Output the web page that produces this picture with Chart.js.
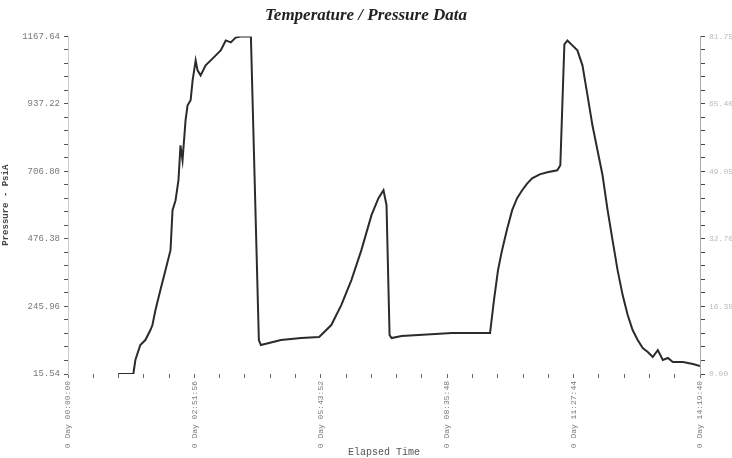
<!DOCTYPE html>
<html>
<head>
<meta charset="utf-8">
<script src="https://cdn.jsdelivr.net/npm/chart.js@4/dist/chart.umd.min.js"></script>
<style>
  html, body { margin: 0; padding: 0; background: #fff; }
  #wrap { width: 732px; height: 458px; }
</style>
</head>
<body>
<div id="wrap"><canvas id="tp"></canvas></div>
<script>
// elapsed time (in tick periods) and pressure
const elapsed = [0.397, 0.517, 0.533, 0.572, 0.612, 0.652, 0.668, 0.692, 0.731, 0.771, 0.811, 0.827, 0.851, 0.874, 0.890, 0.906, 0.930, 0.946, 0.970, 0.986, 1.010, 1.025, 1.049, 1.089, 1.129, 1.169, 1.208, 1.248, 1.288, 1.328, 1.367, 1.431, 1.447, 1.510, 1.526, 1.685, 1.844, 1.987, 2.083, 2.162, 2.242, 2.321, 2.401, 2.456, 2.496, 2.520, 2.544, 2.560, 2.639, 3.037, 3.339, 3.370, 3.402, 3.434, 3.474, 3.514, 3.553, 3.593, 3.632, 3.672, 3.732, 3.792, 3.871, 3.895, 3.927, 3.951, 3.990, 4.030, 4.070, 4.110, 4.149, 4.189, 4.229, 4.269, 4.308, 4.348, 4.388, 4.428, 4.467, 4.507, 4.547, 4.587, 4.626, 4.666, 4.706, 4.746, 4.785, 4.865, 4.944, 5.0];
const pressure = [15.5, 15.5, 63.3, 114.4, 131.4, 165.5, 182.6, 233.7, 301.9, 370.0, 438.2, 574.6, 608.6, 676.8, 795.9, 745.0, 881.3, 932.4, 949.6, 1017.7, 1085.8, 1051.8, 1034.7, 1068.8, 1085.8, 1102.9, 1119.9, 1153.9, 1147.2, 1164.2, 1167.6, 1167.6, 1167.6, 131.4, 114.4, 131.4, 138.3, 141.7, 182.6, 250.7, 335.9, 438.2, 557.6, 615.5, 642.7, 591.6, 148.5, 138.3, 145.1, 155.3, 155.3, 267.8, 370.0, 438.2, 510.0, 574.6, 615.5, 642.7, 665.0, 683.6, 697.0, 704.1, 710.9, 727.9, 1140.4, 1153.9, 1137.0, 1119.9, 1068.8, 966.5, 864.3, 779.1, 693.8, 574.6, 472.3, 370.0, 284.8, 216.6, 165.5, 131.4, 104.2, 90.5, 73.5, 97.3, 63.3, 70.1, 56.4, 56.4, 49.6, 42.8];

const timeLabels = ['0 Day 00:00:00', '0 Day 02:51:56', '0 Day 05:43:52', '0 Day 08:35:48', '0 Day 11:27:44', '0 Day 14:19:40'];
const leftTicks = [15.54, 245.96, 476.38, 706.80, 937.22, 1167.64];
const rightTicks = ['0.00', '16.35', '32.70', '49.05', '65.40', '81.75'];

const monoFont = { family: 'Liberation Mono', size: 8 };

const ctx = document.getElementById('tp').getContext('2d');

new Chart(ctx, {
  type: 'line',
  data: {
    datasets: [{
      data: elapsed.map((x, i) => ({ x, y: pressure[i] })),
      borderColor: '#2b2b2b',
      borderWidth: 2,
      pointRadius: 0,
      tension: 0,
      fill: false
    }]
  },
  options: {
    responsive: true,
    maintainAspectRatio: false,
    animation: false,
    layout: { padding: { top: 0, right: 0, bottom: 0, left: 0 } },
    plugins: {
      legend: { display: false },
      tooltip: { enabled: false },
      title: {
        display: true,
        text: 'Temperature / Pressure Data',
        color: '#222',
        font: { family: 'Liberation Serif', size: 17, style: 'italic', weight: 'bold' },
        padding: { top: 5, bottom: 11 }
      }
    },
    scales: {
      x: {
        type: 'linear',
        min: 0,
        max: 5,
        afterFit: s => { s.height = 84; },
        ticks: {
          stepSize: 0.2,
          autoSkip: false,
          minRotation: 90,
          maxRotation: 90,
          color: '#777',
          font: monoFont,
          callback: v => {
            const r = Math.round(v);
            return Math.abs(v - r) < 1e-6 ? timeLabels[r] : '';
          }
        },
        grid: { drawOnChartArea: false, tickLength: 4, color: '#666' },
        border: { display: false },
        title: {
          display: true,
          text: 'Elapsed Time',
          color: '#555',
          font: { family: 'Liberation Mono', size: 10 },
          padding: { top: 2, bottom: 0 }
        }
      },
      y: {
        position: 'left',
        min: leftTicks[0],
        max: leftTicks[5],
        afterFit: s => { s.width = 68; },
        afterBuildTicks: s => {
          const step = (leftTicks[5] - leftTicks[0]) / 25;
          s.ticks = [];
          for (let i = 0; i <= 25; i++) s.ticks.push({ value: leftTicks[0] + i * step });
        },
        ticks: {
          autoSkip: false,
          color: '#777',
          font: { family: 'Liberation Mono', size: 9 },
          padding: 4,
          callback: (v, i) => (i % 5 === 0 ? leftTicks[i / 5].toFixed(2) : '')
        },
        grid: { drawOnChartArea: false, tickLength: 4, color: '#555' },
        border: { display: true, color: '#ccc', dash: [2, 3] },
        title: {
          display: true,
          text: 'Pressure - PsiA',
          color: '#444',
          font: { family: 'Liberation Mono', size: 9, weight: 'bold' },
          padding: { top: 0, bottom: 0 }
        }
      },
      y2: {
        position: 'right',
        min: 0,
        max: 25,
        afterFit: s => { s.width = 32; },
        afterBuildTicks: s => {
          s.ticks = [];
          for (let i = 0; i <= 25; i++) s.ticks.push({ value: i });
        },
        ticks: {
          autoSkip: false,
          color: '#bbb',
          font: monoFont,
          padding: 4,
          callback: (v, i) => (i % 5 === 0 ? rightTicks[i / 5] : '')
        },
        grid: { drawOnChartArea: false, tickLength: 5, color: '#444' },
        border: { display: true, color: '#aaa', dash: [2, 3] }
      }
    }
  }
});
</script>
</body>
</html>
